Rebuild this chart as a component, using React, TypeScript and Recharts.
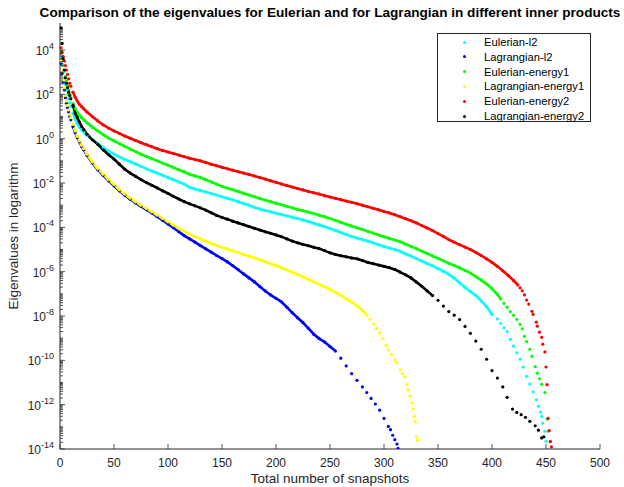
import React from "react";
import { ScatterChart, Scatter, XAxis, YAxis, Legend } from "recharts";

const W = 624;
const H = 487;
const FONT = '"Liberation Sans", Arial, Helvetica, sans-serif';
const INK = "#262626";

const TITLE = "Comparison of the eigenvalues for Eulerian and for Lagrangian in different inner products";
const X_LABEL = "Total number of snapshots";
const Y_LABEL = "Eigenvalues in logarithm";

// [snapshot index, log10(eigenvalue)]
const eulerianL2 = [
  [1, 3.7], [2, 3.35], [3, 3.0], [4, 2.72], [5, 2.45], [6, 2.2], [7, 2.0], [8, 1.8], [9, 1.62], [10, 1.45],
  [12, 1.15], [14, 0.9], [16, 0.7], [18, 0.52], [20, 0.4], [22, 0.3], [25, 0.15], [30, -0.05], [35, -0.22],
  [40, -0.4], [45, -0.56], [50, -0.7], [55, -0.82], [60, -0.93], [65, -1.04], [70, -1.14], [75, -1.25],
  [80, -1.36], [85, -1.46], [90, -1.55], [95, -1.65], [100, -1.75], [105, -1.85], [110, -1.95], [115, -2.05],
  [120, -2.2], [125, -2.27], [130, -2.34], [135, -2.4], [140, -2.47], [145, -2.54], [150, -2.62], [155, -2.69],
  [160, -2.76], [165, -2.84], [170, -2.92], [175, -3.0], [180, -3.1], [185, -3.17], [190, -3.24], [195, -3.3],
  [200, -3.36], [205, -3.42], [210, -3.48], [215, -3.54], [220, -3.6], [225, -3.67], [230, -3.74], [235, -3.81],
  [240, -3.89], [245, -3.97], [250, -4.05], [255, -4.14], [260, -4.23], [265, -4.32], [270, -4.41], [275, -4.48],
  [280, -4.55], [285, -4.62], [290, -4.7], [295, -4.78], [300, -4.86], [305, -4.93], [310, -5.0], [315, -5.08],
  [320, -5.2], [325, -5.3], [330, -5.41], [335, -5.52], [340, -5.63], [345, -5.74], [350, -5.86], [355, -5.98],
  [360, -6.12], [365, -6.3], [370, -6.5], [375, -6.7], [380, -6.9], [385, -7.07], [390, -7.32], [395, -7.58],
  [400, -7.93], [405, -8.13], [408, -8.33], [411, -8.53], [414, -8.7], [417, -9.05], [420, -9.36], [423, -9.66],
  [426, -9.95], [429, -10.3], [432, -10.72], [435, -11.07], [438, -11.42], [441, -11.78], [443, -12.07],
  [445, -12.33], [446, -12.53], [447, -12.83], [449, -13.2], [450, -13.65],
];

const lagrangianL2 = [
  [1, 3.4], [2, 2.95], [3, 2.55], [4, 2.2], [5, 1.85], [6, 1.6], [7, 1.4], [8, 1.2], [9, 1.0], [10, 0.85],
  [12, 0.55], [14, 0.28], [16, 0.05], [18, -0.15], [20, -0.35], [22, -0.5], [25, -0.75], [30, -1.1], [35, -1.4],
  [40, -1.65], [45, -1.9], [50, -2.12], [55, -2.35], [60, -2.55], [65, -2.73], [70, -2.9], [75, -3.05],
  [80, -3.2], [85, -3.35], [90, -3.52], [95, -3.68], [100, -3.85], [105, -4.02], [110, -4.2], [115, -4.37],
  [120, -4.52], [125, -4.67], [130, -4.82], [135, -4.97], [140, -5.12], [145, -5.27], [150, -5.41], [155, -5.56],
  [160, -5.73], [165, -5.91], [170, -6.1], [175, -6.28], [180, -6.46], [185, -6.67], [190, -6.87], [195, -7.05],
  [200, -7.2], [205, -7.36], [210, -7.6], [215, -7.85], [220, -8.08], [225, -8.3], [230, -8.56], [235, -8.82],
  [240, -9.02], [245, -9.17], [250, -9.38], [255, -9.58], [260, -9.9], [265, -10.25], [270, -10.6], [275, -10.9],
  [280, -11.2], [284, -11.45], [288, -11.72], [292, -11.97], [296, -12.25], [300, -12.62], [304, -12.98],
  [306, -13.13], [308, -13.38], [310, -13.58], [312, -13.78], [313, -13.97],
];

const eulerianEnergy1 = [
  [1, 3.95], [2, 3.6], [3, 3.3], [4, 3.05], [5, 2.8], [6, 2.6], [7, 2.4], [8, 2.2], [9, 2.0], [10, 1.85],
  [12, 1.58], [14, 1.35], [16, 1.18], [18, 1.05], [20, 0.95], [22, 0.85], [25, 0.72], [30, 0.52], [35, 0.35],
  [40, 0.18], [45, 0.03], [50, -0.1], [55, -0.22], [60, -0.35], [65, -0.47], [70, -0.58], [75, -0.7],
  [80, -0.8], [85, -0.9], [90, -1.0], [95, -1.1], [100, -1.2], [105, -1.3], [110, -1.4], [115, -1.5],
  [120, -1.6], [125, -1.68], [130, -1.75], [135, -1.85], [140, -1.95], [145, -2.05], [150, -2.15], [155, -2.23],
  [160, -2.3], [165, -2.38], [170, -2.46], [175, -2.54], [180, -2.62], [185, -2.7], [190, -2.77], [195, -2.84],
  [200, -2.91], [205, -2.98], [210, -3.05], [215, -3.12], [220, -3.19], [225, -3.25], [230, -3.31], [235, -3.38],
  [240, -3.45], [245, -3.52], [250, -3.6], [255, -3.68], [260, -3.77], [265, -3.86], [270, -3.94], [275, -4.02],
  [280, -4.1], [285, -4.18], [290, -4.26], [295, -4.34], [300, -4.42], [305, -4.5], [310, -4.57], [315, -4.65],
  [320, -4.75], [325, -4.86], [330, -4.96], [335, -5.07], [340, -5.18], [345, -5.29], [350, -5.4], [355, -5.51],
  [360, -5.62], [365, -5.72], [370, -5.83], [375, -5.94], [380, -6.06], [385, -6.22], [390, -6.38], [395, -6.56],
  [400, -6.77], [405, -7.02], [408, -7.23], [411, -7.43], [414, -7.6], [417, -7.8], [420, -7.97], [423, -8.15],
  [426, -8.38], [428, -8.58], [430, -8.92], [432, -9.15], [435, -9.5], [437, -9.82], [440, -10.28], [442, -10.58],
  [444, -10.83], [446, -11.08], [449, -11.45], [451, -12.65], [452, -13.2], [454, -13.65],
];

const lagrangianEnergy1 = [
  [1, 3.5], [2, 3.05], [3, 2.65], [4, 2.3], [5, 1.95], [6, 1.7], [7, 1.5], [8, 1.3], [9, 1.1], [10, 0.95],
  [12, 0.65], [14, 0.35], [16, 0.1], [18, -0.1], [20, -0.3], [22, -0.45], [25, -0.7], [30, -1.05], [35, -1.35],
  [40, -1.6], [45, -1.85], [50, -2.07], [55, -2.3], [60, -2.5], [65, -2.68], [70, -2.85], [75, -3.0],
  [80, -3.15], [85, -3.3], [90, -3.45], [95, -3.6], [100, -3.75], [105, -3.9], [110, -4.05], [115, -4.17],
  [120, -4.3], [125, -4.42], [130, -4.52], [135, -4.62], [140, -4.72], [145, -4.82], [150, -4.9], [155, -4.98],
  [160, -5.06], [165, -5.14], [170, -5.22], [175, -5.3], [180, -5.38], [185, -5.46], [190, -5.55], [195, -5.64],
  [200, -5.73], [205, -5.82], [210, -5.92], [215, -6.02], [220, -6.12], [225, -6.24], [230, -6.35], [235, -6.46],
  [240, -6.57], [245, -6.68], [250, -6.8], [255, -6.93], [260, -7.07], [265, -7.22], [270, -7.37], [275, -7.55],
  [280, -7.75], [284, -7.95], [287, -8.15], [290, -8.36], [293, -8.56], [296, -8.75], [299, -9.02], [302, -9.32],
  [304, -9.52], [307, -9.73], [310, -9.98], [312, -10.1], [315, -10.43], [317, -10.6], [319, -10.75], [321, -11.1],
  [322, -11.33], [324, -11.6], [326, -11.92], [327, -12.2], [328, -12.53], [329, -12.77], [330, -13.45], [331, -13.6],
];

const eulerianEnergy2 = [
  [1, 4.1], [2, 3.9], [3, 3.7], [4, 3.5], [5, 3.3], [6, 3.1], [7, 2.9], [8, 2.7], [9, 2.5], [10, 2.37],
  [12, 2.1], [14, 1.88], [16, 1.7], [18, 1.55], [20, 1.45], [22, 1.35], [25, 1.2], [30, 1.0], [35, 0.8],
  [40, 0.62], [45, 0.48], [50, 0.35], [55, 0.24], [60, 0.12], [65, 0.02], [70, -0.08], [75, -0.18],
  [80, -0.27], [85, -0.36], [90, -0.45], [95, -0.53], [100, -0.6], [105, -0.67], [110, -0.74], [115, -0.81],
  [120, -0.88], [125, -0.94], [130, -1.0], [135, -1.07], [140, -1.15], [145, -1.22], [150, -1.29], [155, -1.36],
  [160, -1.42], [165, -1.49], [170, -1.55], [175, -1.61], [180, -1.68], [185, -1.75], [190, -1.82], [195, -1.9],
  [200, -1.97], [205, -2.04], [210, -2.11], [215, -2.18], [220, -2.25], [225, -2.31], [230, -2.38], [235, -2.44],
  [240, -2.5], [245, -2.57], [250, -2.63], [255, -2.69], [260, -2.75], [265, -2.81], [270, -2.87], [275, -2.93],
  [280, -3.0], [285, -3.07], [290, -3.14], [295, -3.21], [300, -3.28], [305, -3.35], [310, -3.43], [315, -3.52],
  [320, -3.61], [325, -3.7], [330, -3.8], [335, -3.92], [340, -4.03], [345, -4.15], [350, -4.28], [355, -4.41],
  [360, -4.55], [365, -4.67], [370, -4.78], [375, -4.89], [380, -5.0], [385, -5.13], [390, -5.27], [395, -5.42],
  [400, -5.58], [405, -5.76], [410, -5.96], [415, -6.17], [420, -6.4], [424, -6.6], [426, -6.73], [428, -6.86],
  [430, -7.05], [432, -7.28], [434, -7.46], [437, -7.79], [438, -7.93], [441, -8.28], [442, -8.46], [444, -8.73],
  [446, -8.96], [447, -9.27], [449, -9.62], [450, -10.3], [451, -11.1], [452, -12.62], [453, -13.17],
  [454, -13.67], [455, -13.9],
];

const lagrangianEnergy2 = [
  [1, 5.0], [2, 4.3], [3, 3.6], [4, 3.1], [5, 2.75], [6, 2.5], [7, 2.3], [8, 2.1], [9, 1.95], [10, 1.8],
  [12, 1.5], [14, 1.15], [16, 0.95], [18, 0.75], [20, 0.55], [22, 0.4], [25, 0.2], [30, -0.05], [35, -0.25],
  [40, -0.5], [45, -0.72], [50, -0.92], [55, -1.15], [60, -1.38], [65, -1.55], [70, -1.7], [75, -1.85],
  [80, -1.98], [85, -2.1], [90, -2.22], [95, -2.35], [100, -2.47], [105, -2.6], [110, -2.72], [115, -2.84],
  [120, -2.94], [125, -3.03], [130, -3.12], [135, -3.22], [140, -3.34], [145, -3.46], [150, -3.55], [155, -3.63],
  [160, -3.72], [165, -3.8], [170, -3.88], [175, -3.96], [180, -4.04], [185, -4.12], [190, -4.2], [195, -4.27],
  [200, -4.34], [205, -4.42], [210, -4.52], [215, -4.62], [220, -4.7], [225, -4.77], [230, -4.83], [235, -4.9],
  [240, -4.96], [245, -5.05], [250, -5.15], [255, -5.22], [260, -5.28], [265, -5.33], [270, -5.38], [275, -5.42],
  [280, -5.5], [285, -5.58], [290, -5.64], [295, -5.7], [300, -5.76], [305, -5.82], [310, -5.9], [315, -6.02],
  [320, -6.14], [325, -6.28], [330, -6.47], [335, -6.66], [340, -6.87], [345, -7.08], [350, -7.29], [355, -7.55],
  [360, -7.8], [365, -7.96], [370, -8.16], [375, -8.47], [380, -8.78], [385, -9.13], [390, -9.5], [395, -9.95],
  [400, -10.46], [405, -10.8], [410, -11.2], [414, -11.67], [419, -12.2], [423, -12.35], [427, -12.45],
  [431, -12.57], [435, -12.75], [440, -12.95], [443, -13.15], [446, -13.5], [448, -13.45],
];

const xTicks = [0, 50, 100, 150, 200, 250, 300, 350, 400, 450, 500];
const decades = [-14, -13, -12, -11, -10, -9, -8, -7, -6, -5, -4, -3, -2, -1, 0, 1, 2, 3, 4, 5];
const minorSteps = [2, 3, 4, 5, 6, 7, 8, 9];
const Y_MIN = 1e-14;
const Y_MAX = 10 ** 5.22;

const yTicks = decades
  .flatMap((k) => [Number(`1e${k}`), ...minorSteps.map((m) => Number(`${m}e${k}`))])
  .filter((v) => v >= Y_MIN && v <= Y_MAX);

// dense stretch of each series, where the markers merge into a solid band
const series = [
  { name: "Eulerian-l2", color: "#00ffff", points: eulerianL2, dense: [12, 400] },
  { name: "Lagrangian-l2", color: "#0000ff", points: lagrangianL2, dense: [12, 255] },
  { name: "Eulerian-energy1", color: "#00ff00", points: eulerianEnergy1, dense: [12, 410] },
  { name: "Lagrangian-energy1", color: "#ffff00", points: lagrangianEnergy1, dense: [12, 285] },
  { name: "Eulerian-energy2", color: "#ff0000", points: eulerianEnergy2, dense: [12, 424] },
  { name: "Lagrangian-energy2", color: "#000000", points: lagrangianEnergy2, dense: [12, 345] },
];

const toData = (pts: number[][]) => pts.map(([n, e]) => ({ n, v: 10 ** e }));

function decadeOf(v: number) {
  const l = Math.log10(v);
  const k = Math.round(l);
  return { k, exact: Math.abs(l - k) < 1e-6 };
}

const tickText = { fontFamily: FONT, fontSize: 12, fill: INK };

function LeftTick({ x, y, payload }: any) {
  const { k, exact } = decadeOf(payload.value);
  const major = exact && k % 2 === 0;
  return (
    <g>
      <line x1={x} x2={x + (major ? 5 : 3)} y1={y} y2={y} stroke={INK} strokeWidth={0.8} />
      {major && (
        <text x={x - 6} y={y + 5} textAnchor="end" {...tickText}>
          <tspan>10</tspan>
          <tspan dy={-6} fontSize={9}>{String(k)}</tspan>
        </text>
      )}
    </g>
  );
}

function RightTick({ x, y, payload }: any) {
  const { k, exact } = decadeOf(payload.value);
  const major = exact && k % 2 === 0;
  return <line x1={x} x2={x - (major ? 5 : 3)} y1={y} y2={y} stroke={INK} strokeWidth={0.8} />;
}

function BottomTick({ x, y, payload }: any) {
  return (
    <g>
      <line x1={x} x2={x} y1={y} y2={y - 5} stroke={INK} strokeWidth={0.8} />
      <text x={x} y={y + 18} textAnchor="middle" {...tickText}>{payload.value}</text>
    </g>
  );
}

function TopTick({ x, y }: any) {
  return <line x1={x} x2={x} y1={y} y2={y + 5} stroke={INK} strokeWidth={0.8} />;
}

function LegendBox({ payload }: any) {
  const order = series.map((s) => s.name);
  const items = [...(payload || [])]
    .filter((e: any) => order.includes(e.value))
    .sort((a: any, b: any) => order.indexOf(a.value) - order.indexOf(b.value));
  return (
    <div
      style={{
        boxSizing: "border-box",
        width: "100%",
        height: "100%",
        border: `1px solid ${INK}`,
        background: "#fff",
        position: "relative",
        fontFamily: FONT,
        fontSize: 11.2,
        color: "#000",
      }}
    >
      {items.map((entry: any, i: number) => (
        <div
          key={entry.value}
          style={{ position: "absolute", left: 0, top: 1 + i * 14.8, height: 14, lineHeight: "14px", whiteSpace: "nowrap" }}
        >
          <span
            style={{
              position: "absolute",
              left: 25,
              top: 5.5,
              width: 3,
              height: 3,
              borderRadius: 2,
              background: entry.color,
            }}
          />
          <span style={{ position: "absolute", left: 46 }}>{entry.value}</span>
        </div>
      ))}
    </div>
  );
}

export default function App() {
  return (
    <div style={{ position: "absolute", left: 0, top: 0, width: W, height: H, background: "#fff" }}>
      <div
        style={{
          position: "absolute",
          left: 36,
          top: 6,
          width: 588,
          textAlign: "center",
          whiteSpace: "nowrap",
          fontFamily: FONT,
          fontSize: 13.6,
          lineHeight: "14px",
          fontWeight: "bold",
          color: "#000",
        }}
      >
        {TITLE}
      </div>
      <ScatterChart width={W} height={H} margin={{ top: 23, right: 24, bottom: 0, left: 0 }}>
        <XAxis
          xAxisId="b"
          dataKey="n"
          type="number"
          domain={[0, 500]}
          ticks={xTicks}
          interval={0}
          height={38}
          tickSize={0}
          tickMargin={0}
          tickLine={false}
          axisLine={{ stroke: INK }}
          tick={(p: any) => <BottomTick {...p} />}
          label={{ value: X_LABEL, position: "insideBottom", offset: 4.5, fill: INK, fontSize: 13.5, fontFamily: FONT }}
        />
        <XAxis
          xAxisId="t"
          orientation="top"
          type="number"
          domain={[0, 500]}
          ticks={xTicks}
          interval={0}
          height={0}
          tickSize={0}
          tickMargin={0}
          tickLine={false}
          axisLine={{ stroke: INK }}
          tick={(p: any) => <TopTick {...p} />}
        />
        <YAxis
          yAxisId="l"
          dataKey="v"
          type="number"
          scale="log"
          domain={[Y_MIN, Y_MAX]}
          allowDataOverflow
          ticks={yTicks}
          interval={0}
          width={60}
          tickSize={0}
          tickMargin={0}
          tickLine={false}
          axisLine={{ stroke: INK }}
          tick={(p: any) => <LeftTick {...p} />}
          label={{
            value: Y_LABEL,
            angle: -90,
            position: "insideLeft",
            offset: 13,
            fill: INK,
            fontSize: 13.5,
            fontFamily: FONT,
            style: { textAnchor: "middle" },
          }}
        />
        <YAxis
          yAxisId="r"
          orientation="right"
          type="number"
          scale="log"
          domain={[Y_MIN, Y_MAX]}
          allowDataOverflow
          ticks={yTicks}
          interval={0}
          width={0}
          tickSize={0}
          tickMargin={0}
          tickLine={false}
          axisLine={{ stroke: INK }}
          tick={(p: any) => <RightTick {...p} />}
        />
        <Legend
          layout="vertical"
          align="center"
          verticalAlign="middle"
          content={(p: any) => <LegendBox payload={p.payload} />}
          wrapperStyle={{ position: "absolute", left: 437, top: 33, width: 154, height: 89, right: "auto", bottom: "auto" }}
        />
        {series.map((s) => (
          <Scatter
            key={s.name + "-band"}
            name={s.name + " band"}
            legendType="none"
            xAxisId="b"
            yAxisId="l"
            data={toData(s.points.filter(([n]) => n >= s.dense[0] && n <= s.dense[1]))}
            fill={s.color}
            line={{ stroke: s.color, strokeWidth: 2.6 }}
            lineType="joint"
            isAnimationActive={false}
            shape={() => <g />}
          />
        ))}
        {series.map((s) => (
          <Scatter
            key={s.name}
            name={s.name}
            xAxisId="b"
            yAxisId="l"
            data={toData(s.points)}
            fill={s.color}
            isAnimationActive={false}
            shape={(p: any) => <circle cx={p.cx} cy={p.cy} r={1.6} fill={s.color} />}
          />
        ))}
      </ScatterChart>
    </div>
  );
}
